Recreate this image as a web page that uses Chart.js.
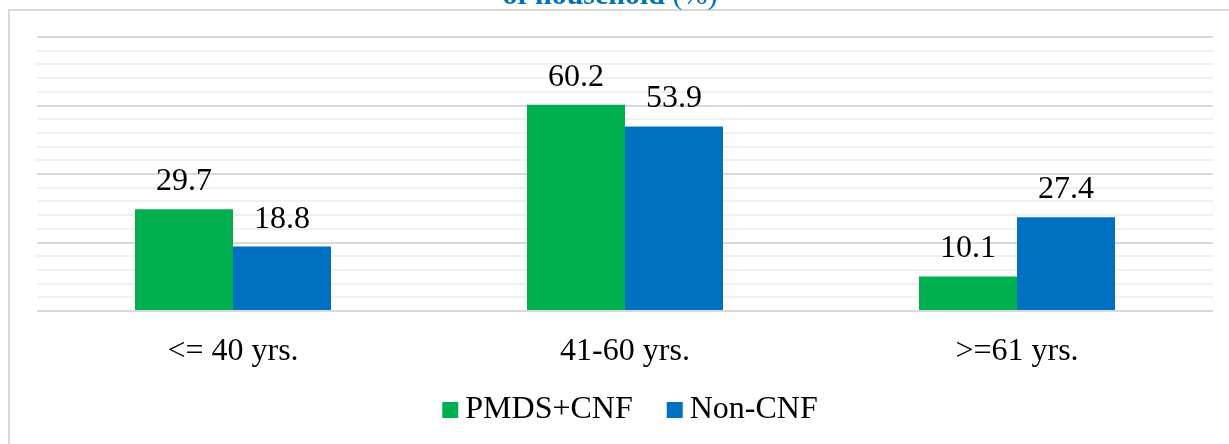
<!DOCTYPE html>
<html>
<head>
<meta charset="utf-8">
<script src="https://cdn.jsdelivr.net/npm/chart.js@4"></script>
<style>
  html, body { margin: 0; padding: 0; background: #fff; }
  #chart { display: block; }
</style>
</head>
<body>
<canvas id="chart" width="1229" height="444"></canvas>
<script>
  // values
  const categories = ["<= 40 yrs.", "41-60 yrs.", ">=61 yrs."];
  const pmdsCnf = [29.7, 60.2, 10.1];
  const nonCnf = [18.8, 53.9, 27.4];
  const seriesNames = ["PMDS+CNF", "Non-CNF"];
  const titleBold = "of household";
  const titleRest = " (%)";

  const GREEN = "#00B050";
  const BLUE = "#0070C0";
  const SERIF = "'Liberation Serif', 'Times New Roman', serif";
  const FONT = "32px " + SERIF;

  // frame + clipped title line at the very top
  const framePlugin = {
    id: "frame",
    beforeDraw(chart) {
      const ctx = chart.ctx;
      ctx.save();
      ctx.strokeStyle = "#d9d9d9";
      ctx.lineWidth = 2;
      ctx.beginPath();
      ctx.moveTo(9, 444);
      ctx.lineTo(9, 10);
      ctx.lineTo(1229, 10);
      ctx.stroke();

      ctx.fillStyle = BLUE;
      ctx.textBaseline = "alphabetic";
      ctx.font = "bold 30px " + SERIF;
      const w1 = ctx.measureText(titleBold).width;
      ctx.font = "30px " + SERIF;
      const w2 = ctx.measureText(titleRest).width;
      const x = 610 - (w1 + w2) / 2;
      ctx.font = "bold 30px " + SERIF;
      ctx.fillText(titleBold, x, 4);
      ctx.font = "30px " + SERIF;
      ctx.fillText(titleRest, x + w1, 4);
      ctx.restore();
    },
  };

  // value labels above each bar + legend row under the axis
  const labelsPlugin = {
    id: "labels",
    afterDatasetsDraw(chart) {
      const ctx = chart.ctx;
      ctx.save();
      ctx.font = FONT;
      ctx.fillStyle = "#000";
      ctx.textAlign = "center";
      ctx.textBaseline = "alphabetic";
      chart.data.datasets.forEach((ds, i) => {
        chart.getDatasetMeta(i).data.forEach((bar, j) => {
          ctx.fillText(ds.data[j].toFixed(1), bar.x, bar.y - 19);
        });
      });

      // legend
      ctx.textAlign = "left";
      const box = 16, gapText = 7, gapItem = 34;
      const widths = chart.data.datasets.map((ds) => ctx.measureText(ds.label).width);
      let total = 0;
      widths.forEach((w, i) => {
        total += box + gapText + w + (i ? gapItem : 0);
      });
      let x = 630 - total / 2;
      const base = chart.chartArea.bottom + 107;
      chart.data.datasets.forEach((ds, i) => {
        ctx.fillStyle = ds.backgroundColor;
        ctx.fillRect(x, base - 16, box, box);
        x += box + gapText;
        ctx.fillStyle = "#000";
        ctx.fillText(ds.label, x, base);
        x += widths[i] + gapItem;
      });
      ctx.restore();
    },
  };

  new Chart(document.getElementById("chart"), {
    type: "bar",
    data: {
      labels: categories,
      datasets: [
        { label: seriesNames[0], data: pmdsCnf, backgroundColor: GREEN },
        { label: seriesNames[1], data: nonCnf, backgroundColor: BLUE },
      ],
    },
    options: {
      responsive: false,
      animation: false,
      categoryPercentage: 0.5,
      barPercentage: 1.0,
      layout: { padding: { left: 37, right: 16, top: 37, bottom: 58 } },
      plugins: {
        tooltip: { enabled: false },
        legend: { display: false },
      },
      scales: {
        x: {
          grid: { display: false, drawTicks: false },
          border: { display: false },
          ticks: { color: "#000", padding: 21, font: { family: SERIF, size: 32 } },
          afterFit(scale) {
            scale.height = 75;
          },
        },
        y: {
          min: 0,
          max: 80,
          ticks: { display: false, stepSize: 4 },
          border: { display: false },
          grid: {
            drawTicks: false,
            lineWidth: 2,
            color: (c) => (c.tick && c.tick.value % 20 === 0 ? "#d9d9d9" : "#f0f0f0"),
          },
        },
      },
    },
    plugins: [framePlugin, labelsPlugin],
  });
</script>
</body>
</html>
